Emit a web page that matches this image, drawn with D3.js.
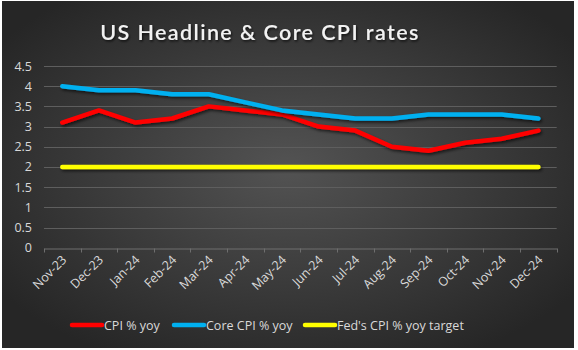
<!DOCTYPE html>
<html><head><meta charset="utf-8">
<script src="https://cdn.jsdelivr.net/npm/d3@7"></script>
<style>html,body{margin:0;padding:0;background:#fff;}svg{display:block;}</style>
</head><body>
<script>
const months = ["Nov-23","Dec-23","Jan-24","Feb-24","Mar-24","Apr-24","May-24","Jun-24","Jul-24","Aug-24","Sep-24","Oct-24","Nov-24","Dec-24"];
const cpi = [3.1,3.4,3.1,3.2,3.5,3.4,3.3,3.0,2.9,2.5,2.4,2.6,2.7,2.9];
const core = [4.0,3.9,3.9,3.8,3.8,3.6,3.4,3.3,3.2,3.2,3.3,3.3,3.3,3.2];
const fedTarget = [2,2,2,2,2,2,2,2,2,2,2,2,2,2];
const yTicks = [0,0.5,1,1.5,2,2.5,3,3.5,4,4.5];
const seriesNames = ["CPI % yoy","Core CPI % yoy","Fed's CPI % yoy target"];
const seriesColors = ["#ff0000","#00b0f0","#ffff00"];

const W=578,H=350;
const svg=d3.select("body").append("svg").attr("width",W).attr("height",H);
const defs=svg.append("defs");
const rg=defs.append("radialGradient").attr("id","bg").attr("cx","50%").attr("cy","48%").attr("r","62%");
rg.append("stop").attr("offset","0%").attr("stop-color","#535353");
rg.append("stop").attr("offset","100%").attr("stop-color","#262626");
const sh=defs.append("filter").attr("id","sh").attr("filterUnits","userSpaceOnUse")
  .attr("x",0).attr("y",0).attr("width",W).attr("height",H);
sh.append("feDropShadow").attr("dx",1.5).attr("dy",2).attr("stdDeviation",1.5).attr("flood-color","#000").attr("flood-opacity",0.6);
const tsh=defs.append("filter").attr("id","tsh");
tsh.append("feDropShadow").attr("dx",1).attr("dy",1.5).attr("stdDeviation",1).attr("flood-color","#000").attr("flood-opacity",0.7);

svg.append("rect").attr("x",2).attr("y",1).attr("width",572).attr("height",347).attr("fill","url(#bg)");

const x=d3.scaleBand().domain(months).range([44,556.7]);
const y=d3.scaleLinear().domain([0,4.5]).range([247.7,66]);

svg.append("text").attr("x",260).attr("y",40).attr("text-anchor","middle")
  .attr("font-family","Lato, 'Open Sans', sans-serif").attr("font-size",21.5).attr("font-weight","600")
  .attr("letter-spacing",1.4).attr("fill","#f2f2f2").attr("filter","url(#tsh)")
  .text("US Headline & Core CPI rates");

// gridlines
svg.append("g").selectAll("line").data(yTicks.filter(d=>d>0)).join("line")
  .attr("x1",44).attr("x2",556.7).attr("y1",d=>Math.round(y(d))+0.5).attr("y2",d=>Math.round(y(d))+0.5)
  .attr("stroke","#5e5e5e").attr("stroke-width",1);

// y axis
const ya=svg.append("g").attr("transform","translate(44,0)")
  .call(d3.axisLeft(y).tickValues(yTicks).tickSize(0).tickPadding(12).tickFormat(d3.format("")));
ya.select(".domain").remove();
ya.selectAll("text").attr("font-family","'Open Sans', sans-serif").attr("font-size",12.5).attr("fill","#d9d9d9");

// x axis
const xa=svg.append("g").attr("transform","translate(0,"+(Math.round(y(0))+0.5)+")")
  .call(d3.axisBottom(x).tickSizeOuter(0).tickSize(0));
xa.select(".domain").attr("stroke","#6e6e6e");
const bounds=[...months.map(m=>x(m)),x.range()[1]];
xa.append("g").selectAll("line").data(bounds).join("line")
  .attr("x1",d=>Math.round(d)+0.5).attr("x2",d=>Math.round(d)+0.5).attr("y1",0).attr("y2",4).attr("stroke","#6e6e6e");
xa.selectAll(".tick text").attr("font-family","'Open Sans', sans-serif").attr("font-size",12.5).attr("fill","#d9d9d9")
  .attr("text-anchor","end").attr("dy",0).attr("transform","translate(3,10) rotate(-45)");

const line=d3.line().x((d,i)=>x(months[i])+x.bandwidth()/2).y(d=>y(d));
const data=[cpi,core,fedTarget];
[0,1,2].forEach(k=>{
  svg.append("path").datum(data[k]).attr("d",line).attr("fill","none")
    .attr("stroke",seriesColors[k]).attr("stroke-width",4.5).attr("stroke-linecap","round").attr("stroke-linejoin","round")
    .attr("filter","url(#sh)");
});

// legend
const lx=[72,174,305];
const lg=svg.append("g");
seriesNames.forEach((n,k)=>{
  lg.append("line").attr("x1",lx[k]).attr("x2",lx[k]+30).attr("y1",325).attr("y2",325)
    .attr("stroke",seriesColors[k]).attr("stroke-width",4.5).attr("stroke-linecap","round");
  lg.append("text").attr("x",lx[k]+32).attr("y",329.5).attr("font-family","'Open Sans', sans-serif")
    .attr("font-size",12.5).attr("fill","#d9d9d9").text(n);
});
</script>
</body></html>
